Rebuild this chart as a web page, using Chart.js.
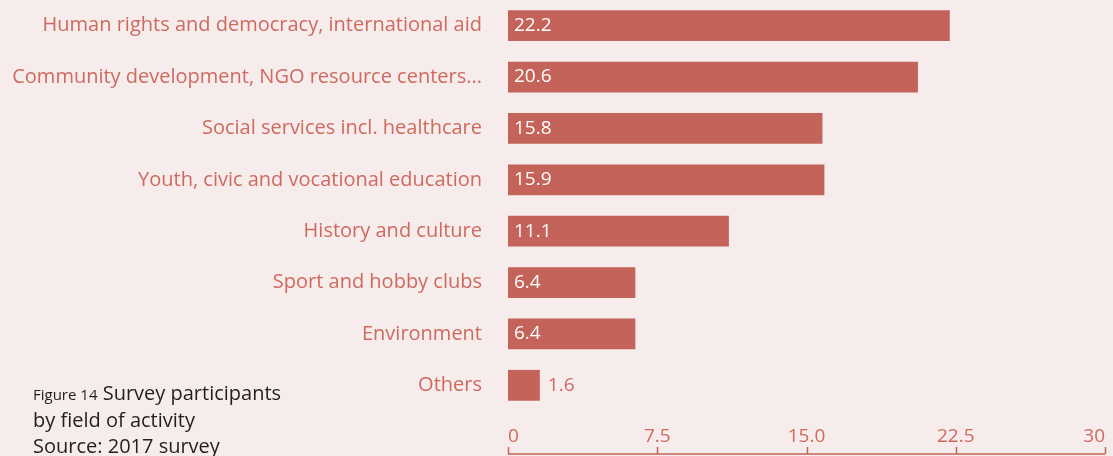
<!DOCTYPE html>
<html>
<head>
<meta charset="utf-8">
<script src="https://cdn.jsdelivr.net/npm/chart.js@4.4.1/dist/chart.umd.min.js"></script>
<style>
  body { margin: 0; background: #f5eceb; }
  #wrap { position: relative; width: 1113px; height: 456px; overflow: hidden; }
  #caption {
    position: absolute; left: 33px; top: 380px;
    font-family: "Open Sans", sans-serif; font-size: 20px; line-height: 26px; color: #231f20;
  }
  #caption small { font-size: 15px; }
</style>
</head>
<body>
<div id="wrap">
  <canvas id="chart"></canvas>
  <div id="caption"><small>Figure 14</small> Survey participants<br>by field of activity<br>Source: 2017 survey</div>
</div>
<script>
// categories and values
const fields = [
  "Human rights and democracy, international aid",
  "Community development, NGO resource centers...",
  "Social services incl. healthcare",
  "Youth, civic and vocational education",
  "History and culture",
  "Sport and hobby clubs",
  "Environment",
  "Others"
];
const shares = [22.2, 20.6, 15.8, 15.9, 11.1, 6.4, 6.4, 1.6];
const xTickLabels = ["0", "7.5", "15.0", "22.5", "30"];

const red = "#c4635a";
const textRed = "#cf6a5f";
const font = "Open Sans";

// values written on the bars (inside if there is room, else after the bar)
const barValues = {
  id: "barValues",
  afterDatasetsDraw(chart) {
    const ctx = chart.ctx;
    const meta = chart.getDatasetMeta(0);
    ctx.save();
    ctx.font = "19px '" + font + "'";
    ctx.textBaseline = "middle";
    meta.data.forEach((bar, i) => {
      const txt = shares[i].toFixed(1);
      const w = ctx.measureText(txt).width;
      if (bar.x - bar.base > w + 14) {
        ctx.fillStyle = "#ffffff";
        ctx.fillText(txt, bar.base + 6, bar.y);
      } else {
        ctx.fillStyle = textRed;
        ctx.fillText(txt, bar.x + 8, bar.y);
      }
    });
    ctx.restore();
  }
};

// axis line sits under the tick labels, ticks point up
const bottomAxis = {
  id: "bottomAxis",
  afterDraw(chart) {
    const x = chart.scales.x;
    const ctx = chart.ctx;
    const y = chart.height - 2;
    ctx.save();
    ctx.strokeStyle = red;
    ctx.lineWidth = 1.5;
    ctx.beginPath();
    ctx.moveTo(x.left, y);
    ctx.lineTo(x.right, y);
    x.ticks.forEach((t) => {
      const px = Math.round(x.getPixelForValue(t.value)) + 0.5;
      ctx.moveTo(px, y);
      ctx.lineTo(px, y - 7);
    });
    ctx.stroke();
    ctx.restore();
  }
};

new Chart(document.getElementById("chart"), {
  type: "bar",
  data: {
    labels: fields,
    datasets: [{
      data: shares,
      backgroundColor: red,
      barPercentage: 0.6,
      categoryPercentage: 1.0
    }]
  },
  options: {
    indexAxis: "y",
    responsive: true,
    maintainAspectRatio: false,
    animation: false,
    layout: { padding: { left: 0, right: 8, top: 0, bottom: 0 } },
    plugins: { legend: { display: false }, tooltip: { enabled: false } },
    scales: {
      x: {
        min: 0, max: 30,
        afterBuildTicks(scale) {
          scale.ticks = xTickLabels.map((l) => ({ value: Number(l) }));
        },
        afterFit(scale) {
          scale.height = 45;
          scale.paddingLeft = 0;
          scale.paddingRight = 0;
        },
        grid: { display: false, drawTicks: false },
        border: { display: false },
        ticks: {
          callback: (v, i) => xTickLabels[i],
          color: textRed,
          font: { family: font, size: 19 },
          padding: 14,
          align: "inner",
          maxRotation: 0
        }
      },
      y: {
        afterFit(scale) {
          scale.width = 508;
          scale.paddingTop = 0;
          scale.paddingBottom = 0;
        },
        grid: { display: false, drawTicks: false },
        border: { display: false },
        ticks: {
          color: textRed,
          font: { family: font, size: 20 },
          padding: 26
        }
      }
    }
  },
  plugins: [barValues, bottomAxis]
});
</script>
</body>
</html>
